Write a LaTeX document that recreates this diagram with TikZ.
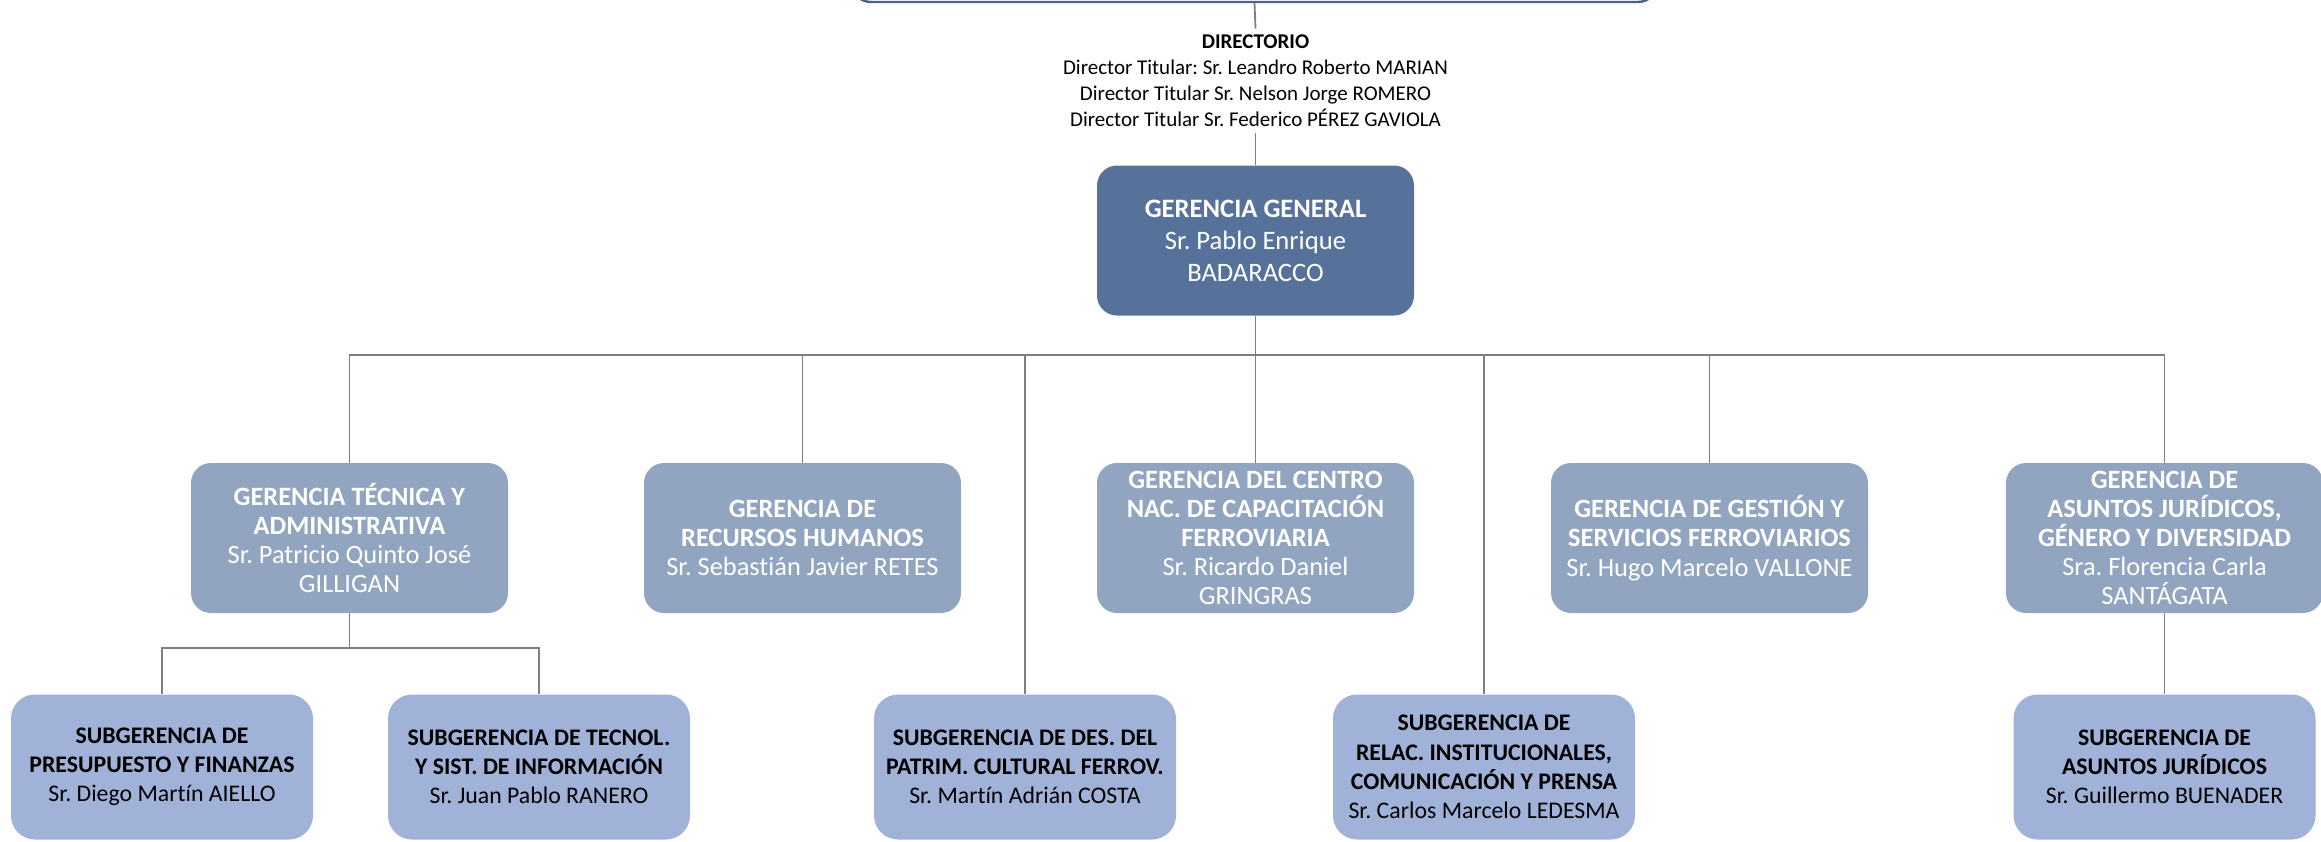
\documentclass[tikz,border=0pt]{standalone}
\usepackage{fontspec}
\setmainfont{Carlito}[Ligatures=NoCommon]
\frenchspacing
\definecolor{ggblue}{HTML}{56729A}
\definecolor{lvltwo}{HTML}{91A5C1}
\definecolor{subblue}{HTML}{A0B2D8}
\definecolor{topblue}{HTML}{4A6289}
\definecolor{linegray}{HTML}{7F7F7F}
\begin{document}
\begin{tikzpicture}[x=0.5pt,y=-0.5pt,
  conn/.style={draw=linegray, line width=0.9pt},
  topbox/.style={draw=topblue, line width=1.2pt, fill=white, rounded corners=10pt, minimum width=403.5pt, minimum height=32pt, inner sep=0pt},
  dirtext/.style={align=center, font=\fontsize{10.5}{13}\selectfont, inner xsep=2pt, inner ysep=3pt},
  ggbox/.style={fill=ggblue, rounded corners=10pt, minimum width=158.5pt, minimum height=75pt, text=white, align=center, font=\fontsize{13.3}{16}\selectfont, inner sep=0pt},
  lvlbox/.style={fill=lvltwo, rounded corners=10pt, minimum width=158.5pt, minimum height=75pt, text=white, align=center, font=\fontsize{13.2}{14.6}\selectfont, inner sep=0pt},
  subbox/.style={fill=subblue, rounded corners=12pt, minimum width=151pt, minimum height=72.5pt, text=black, align=center, font=\fontsize{11.9}{14.6}\selectfont, inner sep=0pt}
]
\useasboundingbox (0,0) rectangle (2321,841);

\node[topbox] (top) at (1254.5,-30) {};
\node[dirtext] (dir) at (1255.5,81) {\textbf{DIRECTORIO}\\Director Titular: Sr. Leandro Roberto MARIAN\\Director Titular Sr. Nelson Jorge ROMERO\\Director Titular Sr. Federico PÉREZ GAVIOLA};

\node[ggbox] (gg) at (1255.5,240.5) {\textbf{GERENCIA GENERAL}\\Sr. Pablo Enrique\\BADARACCO};

\node[lvlbox] (gta) at (349.5,538) {\textbf{GERENCIA TÉCNICA Y}\\\textbf{ADMINISTRATIVA}\\Sr. Patricio Quinto José\\GILLIGAN};
\node[lvlbox] (rrhh) at (802.5,538) {\textbf{GERENCIA DE}\\\textbf{RECURSOS HUMANOS}\\Sr. Sebastián Javier RETES};
\node[lvlbox] (cnc) at (1255.5,538) {\textbf{GERENCIA DEL CENTRO}\\\textbf{NAC. DE CAPACITACIÓN}\\\textbf{FERROVIARIA}\\Sr. Ricardo Daniel\\GRINGRAS};
\node[lvlbox] (ges) at (1709.5,538) {\textbf{GERENCIA DE GESTIÓN Y}\\\textbf{SERVICIOS FERROVIARIOS}\\Sr. Hugo Marcelo VALLONE};
\node[lvlbox] (ajgd) at (2164.5,538) {\textbf{GERENCIA DE}\\\textbf{ASUNTOS JURÍDICOS,}\\\textbf{GÉNERO Y DIVERSIDAD}\\Sra. Florencia Carla\\SANTÁGATA};

\node[subbox] (pres) at (162,767) {\textbf{SUBGERENCIA DE}\\\textbf{PRESUPUESTO Y FINANZAS}\\Sr. Diego Martín AIELLO};
\node[subbox] (tec) at (539,767) {\textbf{SUBGERENCIA DE TECNOL.}\\\textbf{Y SIST. DE INFORMACIÓN}\\Sr. Juan Pablo RANERO};
\node[subbox] (des) at (1025,767) {\textbf{SUBGERENCIA DE DES. DEL}\\\textbf{PATRIM. CULTURAL FERROV.}\\Sr. Martín Adrián COSTA};
\node[subbox] (rel) at (1484,767) {\textbf{SUBGERENCIA DE}\\\textbf{RELAC. INSTITUCIONALES,}\\\textbf{COMUNICACIÓN Y PRENSA}\\Sr. Carlos Marcelo LEDESMA};
\node[subbox] (aj) at (2164.5,767) {\textbf{SUBGERENCIA DE}\\\textbf{ASUNTOS JURÍDICOS}\\Sr. Guillermo BUENADER};

\coordinate (busy) at (0,355);
\coordinate (sby) at (0,648);

\draw[conn] (top.south) -- (dir.north);
\draw[conn] (dir.south) -- (gg.north);
\draw[conn] (gg.south) -- (gg.south |- busy);
\foreach \n in {gta,rrhh,cnc,ges,ajgd,des,rel}{
  \draw[conn] (gg.south |- busy) -| (\n.north);
}
\draw[conn] (gta.south) -- (gta.south |- sby);
\foreach \n in {pres,tec}{
  \draw[conn] (gta.south |- sby) -| (\n.north);
}
\draw[conn] (ajgd.south) -- (aj.north);
\end{tikzpicture}
\end{document}
